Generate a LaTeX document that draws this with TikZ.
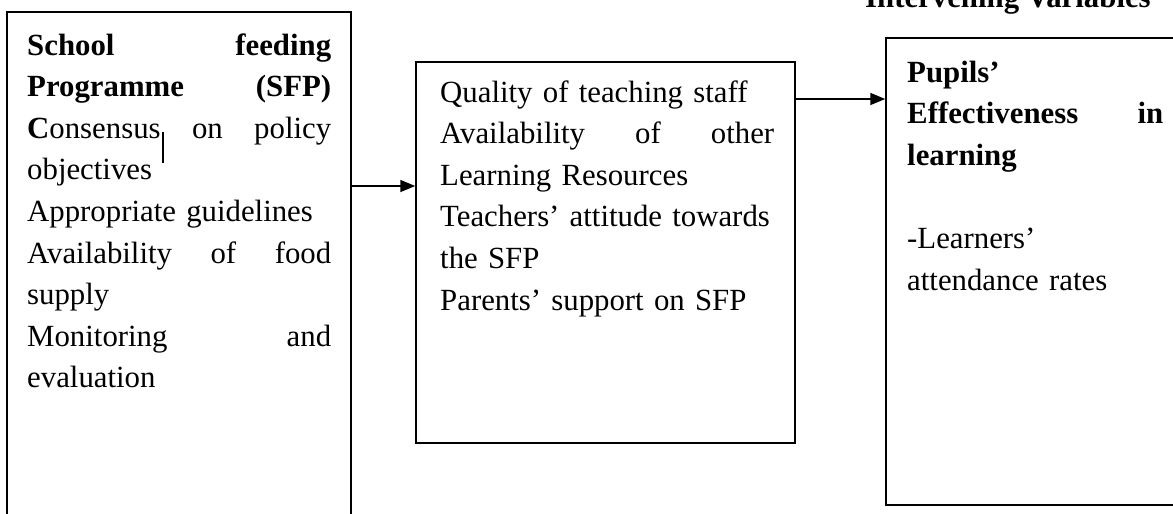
\documentclass[tikz,border=0pt]{standalone}
\usepackage{fontspec}
\setmainfont{Liberation Serif}
\usetikzlibrary{arrows.meta}
\begin{document}
\begin{tikzpicture}[x=1pt,y=-1pt,
  box/.style={draw, line width=1.5pt, inner sep=0pt},
  body/.style={anchor=base west, inner sep=0pt, align=left,
    font=\fontsize{30.8}{41.6}\selectfont},
  arr/.style={line width=1.5pt, -{Triangle[length=15pt,width=12pt]}}]
\useasboundingbox (0,0) rectangle (1173,514);
\clip (0,0) rectangle (1173,514);

% heading, partly above the page edge
\node[anchor=base west, inner sep=0pt, font=\fontsize{30.8}{41.6}\selectfont\bfseries]
  (hd) at (865,8) {Intervening Variables};

% the three boxes
\node[box, minimum width=344pt, minimum height=518pt] (b1) at (179,271) {};
\node[box, minimum width=379pt, minimum height=381pt] (b2) at (605.5,252.5) {};
\node[box, minimum width=310pt, minimum height=467pt] (b3) at (1041,271.5) {};

% box texts
\node[body, text width=304pt] (t1) at (27,55) {%
  \textbf{School}\hfill\textbf{feeding}\\
  \textbf{Programme}\hfill\textbf{(SFP)}\\
  \textbf{C}onsensus\hfill on\hfill policy\\
  objectives\\
  Appropriate guidelines\\
  Availability\hfill of\hfill food\\
  supply\\
  Monitoring\hfill and\\
  evaluation};

\node[body, text width=334pt] (t2) at (440,102) {%
  Quality of teaching staff\\
  Availability\hfill of\hfill other\\
  Learning Resources\\
  \mbox{Teachers’ attitude towards}\\
  the SFP\\
  Parents’ support on SFP};

\node[body, text width=256pt] (t3) at (907,82) {%
  \textbf{Pupils’}\\
  \textbf{Effectiveness}\hfill\textbf{in}\\
  \textbf{learning}\\
  ~\\
  -Learners’\\
  attendance rates};

% stray rule beside "Consensus"
\coordinate (m1) at (163,132);
\coordinate (m2) at (163,163);
\draw[line width=1.2pt] (m1) -- (m2);

% connectors
\coordinate (a1) at (0,186);
\coordinate (a2) at (0,99);
\draw[arr] (b1.east |- a1) -- (b2.west |- a1);
\draw[arr] (b2.east |- a2) -- (b3.west |- a2);
\end{tikzpicture}
\end{document}
